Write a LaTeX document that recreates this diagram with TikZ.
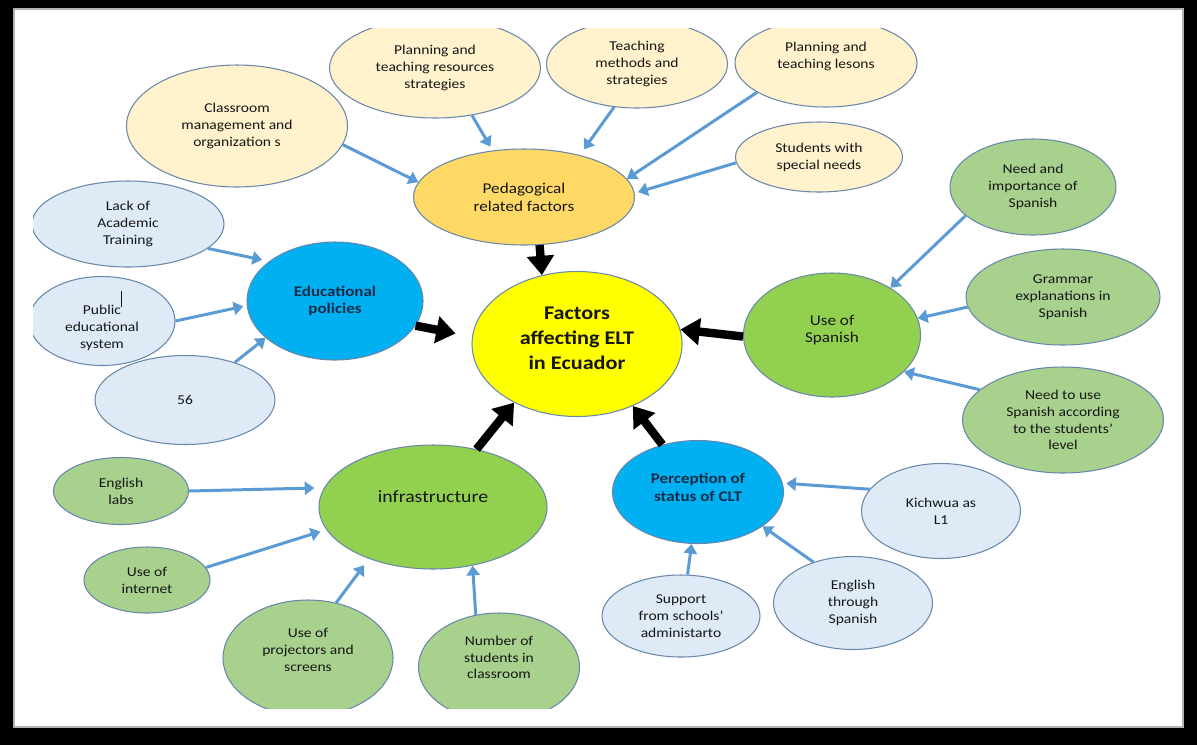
\documentclass[tikz,border=0pt]{standalone}
\usepackage{fontspec}
\setmainfont{Carlito}[FakeStretch=1.15]
\usepackage{tikz}
\usetikzlibrary{shapes.geometric, arrows.meta}
\definecolor{edge}{RGB}{105, 135, 170}
\definecolor{creambg}{RGB}{255, 242, 204}
\definecolor{goldbg}{RGB}{255, 217, 102}
\definecolor{corebg}{RGB}{255, 255, 0}
\definecolor{bluebg}{RGB}{0, 176, 240}
\definecolor{greenbg}{RGB}{146, 208, 80}
\definecolor{palebluebg}{RGB}{222, 235, 247}
\definecolor{palegreenbg}{RGB}{169, 209, 142}
\definecolor{linkblue}{RGB}{91, 155, 213}
\definecolor{inktext}{RGB}{22, 22, 22}
\definecolor{navytext}{RGB}{22, 42, 72}
\tikzset{
    bubble/.style={ellipse, draw=edge, line width=0.6pt, inner sep=0pt, align=center, text=inktext, font=\fontsize{7.7}{9.6}\selectfont},
    cream/.style={bubble, fill=creambg},
    paleb/.style={bubble, fill=palebluebg},
    paleg/.style={bubble, fill=palegreenbg},
    hub/.style={bubble, font=\fontsize{8.5}{10.2}\selectfont},
    hubbold/.style={bubble, text=navytext, font=\fontsize{8.4}{10.2}\selectfont\bfseries},
    esize/.style 2 args={minimum width=#1*0.02cm, minimum height=#2*0.02cm},
    arrow/.style={-{Triangle[length=5.5pt, width=7.5pt]}, line width=1.7pt, color=linkblue},
    bigarrow/.style={-{Triangle[length=11pt, width=15pt]}, line width=4.8pt, color=black}
}
\begin{document}
\begin{tikzpicture}[x=0.02cm, y=-0.02cm]

    % Frame
    \fill [black] (0,0) rectangle (1197,745);
    \filldraw [fill=white, draw=black!30, line width=1.5pt] (14,9) rectangle (1183,727);

    \begin{scope}
    \clip (33,28) rectangle (1183,708);

    % Core and main factors
    \node (centre) [bubble, fill=corebg, esize={210}{145}, font=\fontsize{11}{14.2}\selectfont\bfseries, text depth=7pt] at (577,344) {Factors\\affecting ELT\\in Ecuador};
    \node (ped)    [hub, fill=goldbg, esize={221}{96}] at (524,197) {Pedagogical\\related factors};
    \node (edu)    [hubbold, fill=bluebg, esize={176}{118}] at (335,301) {Educational\\policies};
    \node (spa)    [hub, fill=greenbg, esize={177}{124}, text depth=7pt] at (832,335) {Use of\\Spanish};
    \node (perc)   [hubbold, fill=bluebg, esize={171}{103}, text depth=5pt] at (698,492) {Perception of\\status of CLT};
    \node (infra)  [hub, fill=greenbg, esize={228}{124}, font=\fontsize{9.8}{12}\selectfont, text depth=12pt] at (433,507) {infrastructure};

    % Pedagogical branch
    \node (cls)  [cream, esize={221}{122}] at (237,126) {Classroom\\management and\\organization s};
    \node (res)  [cream, esize={211}{100}] at (435,68) {Planning and\\teaching resources\\strategies};
    \node (meth) [cream, esize={181}{88}] at (637,64) {Teaching\\methods and\\strategies};
    \node (less) [cream, esize={182}{88}, text depth=9pt] at (826,63) {Planning and\\teaching lesons};
    \node (spec) [cream, esize={167}{70}] at (819,157) {Students with\\special needs};

    % Policy branch
    \node (lack) [paleb, esize={192}{86}] at (128,224) {Lack of\\Academic\\Training};
    \node (pub)  [paleb, esize={146}{89}] at (102,321) {Public\rlap{\raisebox{4.5pt}{\rule{0.5pt}{9pt}}}\\educational\\system};
    \node (fsix) [paleb, esize={180}{89}] at (185,400) {56};

    % Spanish branch
    \node (need)    [paleg, esize={166}{96}] at (1033,187) {Need and\\importance of\\Spanish};
    \node (gram)    [paleg, esize={194}{96}] at (1063,297) {Grammar\\explanations in\\Spanish};
    \node (needuse) [paleg, esize={201}{106}] at (1063,420) {Need to use\\Spanish according\\to the students'\\level};

    % CLT branch
    \node (kich)  [paleb, esize={159}{95}] at (941,511) {Kichwua as\\L1};
    \node (engsp) [paleb, esize={159}{93}] at (853,603) {English\\through\\Spanish};
    \node (supp)  [paleb, esize={158}{82}] at (681,616) {Support\\from schools'\\administarto};

    % Infrastructure branch
    \node (labs)  [paleg, esize={135}{67}] at (121,491) {English\\labs};
    \node (inet)  [paleg, esize={126}{66}] at (147,580) {Use of\\internet};
    \node (proj)  [paleg, esize={170}{116}, text depth=9pt] at (308,658) {Use of\\projectors and\\screens};
    \node (numst) [paleg, esize={161}{108}, text depth=11pt] at (499,667) {Number of\\students in\\classroom};
    \end{scope}

    % Arrows into the core
    \draw [bigarrow] (ped.-72) -- (centre.117);
    \draw [bigarrow, shorten >=9.5pt] (edu.-17) -- (centre.176);
    \draw [bigarrow] (spa.181) -- (centre.8);
    \draw [bigarrow] (infra.53) -- (centre.-137);
    \draw [bigarrow] (perc.127) -- (centre.-48);

    % Arrows into the factors
    \draw [arrow] (cls.-10) -- (ped.172);
    \draw [arrow, shorten >=2.5pt] (res.-52) -- (ped.124);
    \draw [arrow, shorten >=4pt] (meth.-118) -- (ped.37);
    \draw [arrow] (less.-157) -- (ped.10);
    \draw [arrow, shorten >=2pt] (spec.184) -- (ped.2);

    \draw [arrow, shorten >=4pt] (lack.-17) -- (edu.149);
    \draw [arrow, shorten >=2pt] (pub.0) -- (edu.183);
    \draw [arrow] (fsix.37) -- (edu.-152);

    \draw [arrow] (need.-157) -- (spa.39);
    \draw [arrow] (gram.-174) -- (spa.11);
    \draw [arrow] (needuse.160) -- (spa.-27);

    \draw [arrow, shorten >=2pt] (kich.163) -- (perc.6);
    \draw [arrow] (engsp.134) -- (perc.-28);
    \draw [arrow] (supp.81) -- (perc.-97);

    \draw [arrow, shorten >=5.5pt] (labs.0) -- (infra.170);
    \draw [arrow, shorten >=3.5pt] (inet.12) -- (infra.-168);
    \draw [arrow, shorten >=4.5pt] (proj.63) -- (infra.-141);
    \draw [arrow] (numst.114) -- (infra.-56);

\end{tikzpicture}
\end{document}
